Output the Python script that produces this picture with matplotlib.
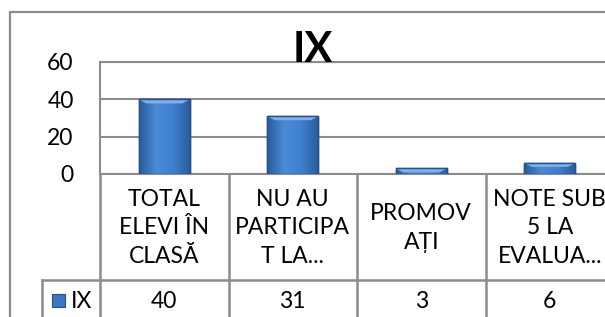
import matplotlib
matplotlib.use("Agg")
import matplotlib.pyplot as plt
import matplotlib.transforms as mtransforms
from matplotlib.colors import LinearSegmentedColormap
import numpy as np

categories = ["TOTAL\nELEVI ÎN\nCLASĂ", "NU AU\nPARTICIPA\nT LA...", "PROMOV\nAȚI", "NOTE SUB\n5 LA\nEVALUA..."]
series_name = "IX"
values = [40, 31, 3, 6]
yticks = [0, 20, 40, 60]

W, H = 605, 317
DPI = 100
fig = plt.figure(figsize=(W / DPI, H / DPI), dpi=DPI)
plt.rcParams['font.family'] = ['Lato', 'DejaVu Sans']

def fx(px):
    return px / W

def fy(py):
    return 1 - py / H

GRID = '#8c8c8c'
FS = 16.5

# outer chart border (extends beyond the image on right/bottom)
fig.patches.append(plt.Rectangle((fx(10), fy(330)), fx(700) - fx(10), fy(12) - fy(330),
                                 transform=fig.transFigure, fill=False, edgecolor=GRID, lw=1.6))

left, right, top, bottom = 100, 614, 62, 174
ax = fig.add_axes([fx(left), fy(bottom), fx(right) - fx(left), fy(top) - fy(bottom)])
ax.set_xlim(-0.5, len(categories) - 0.5)
ax.set_ylim(0, 60)
ax.set_yticks(yticks)
ax.set_yticklabels([str(t) for t in yticks], fontsize=FS)
ax.tick_params(axis='y', length=0, pad=19)
ax.set_xticks([])
ax.grid(axis='y', color=GRID, lw=1.5)
ax.set_axisbelow(True)
for s in ['left', 'top', 'right', 'bottom']:
    ax.spines[s].set_color(GRID)
    ax.spines[s].set_linewidth(1.5)

x = np.arange(len(categories))
bars = ax.bar(x, values, width=0.40, color='#3b78c3', edgecolor='#24518a', lw=1.0, zorder=3)

# gradient shading for a bevelled look
cmap = LinearSegmentedColormap.from_list('bev', ['#2a5c9c', '#4a8ad6', '#3f80cf', '#2a5c9c'])
grad = np.linspace(0, 1, 64).reshape(1, -1)
for b in bars:
    x0, y0 = b.get_x(), b.get_y()
    w, h = b.get_width(), b.get_height()
    im = ax.imshow(grad, extent=[x0, x0 + w, y0, y0 + h], aspect='auto', cmap=cmap, zorder=3.5)
    im.set_clip_path(b)
    bev_h = min(h, 2.2)
    ax.fill([x0, x0 + w, x0 + w * 0.85, x0 + w * 0.15], [y0 + h, y0 + h, y0 + h - bev_h, y0 + h - bev_h],
            color='#7fb0ea', zorder=3.6, lw=0)
    ax.add_patch(plt.Rectangle((x0, y0), w, h, fill=False, edgecolor='#24518a', lw=1.0, zorder=3.7))

# data table
trans = mtransforms.blended_transform_factory(ax.transData, fig.transFigure)
ylo = fy(330)
for i in range(len(categories)):
    ax.plot([i - 0.5, i - 0.5], [fy(bottom), ylo], transform=trans, color=GRID, lw=1.8, clip_on=False)
    ax.text(i, fy(228), categories[i], transform=trans, ha='center', va='center',
            fontsize=FS, linespacing=1.45, clip_on=False)
    ax.text(i, fy(302), str(values[i]), transform=trans, ha='center', va='center',
            fontsize=FS, clip_on=False)

# row header cell and row line
fig.add_artist(plt.Line2D([fx(42), fx(700)], [fy(280), fy(280)], transform=fig.transFigure, color=GRID, lw=1.8))
fig.add_artist(plt.Line2D([fx(42), fx(42)], [fy(280), fy(330)], transform=fig.transFigure, color=GRID, lw=1.8))
fig.patches.append(plt.Rectangle((fx(52), fy(307)), fx(13), fy(294) - fy(307), transform=fig.transFigure,
                                 facecolor='#3b78c3', edgecolor='#24518a', lw=0.8))
fig.text(fx(71), fy(301), series_name, ha='left', va='center', fontsize=FS)

# title
fig.text(fx(313), fy(62), series_name, ha='center', va='baseline', fontsize=30, fontweight='bold')

fig.savefig('out.png', dpi=DPI)
